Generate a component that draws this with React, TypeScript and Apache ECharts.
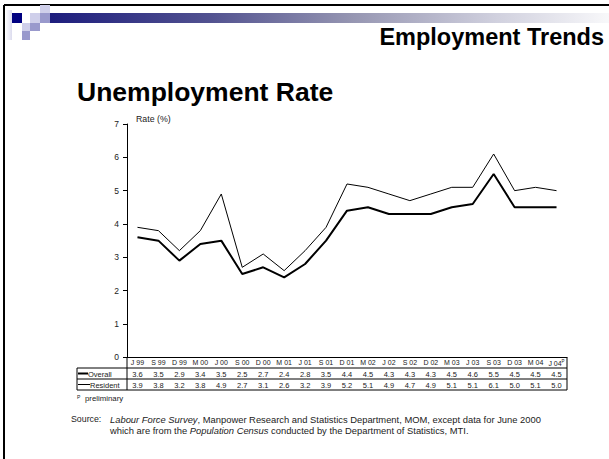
import React, { useEffect, useRef } from "react";
import * as echarts from "echarts";

const categories = ["J 99","S 99","D 99","M 00","J 00","S 00","D 00","M 01","J 01","S 01","D 01","M 02","J 02","S 02","D 02","M 03","J 03","S 03","D 03","M 04","J 04"];
const overall = [3.6,3.5,2.9,3.4,3.5,2.5,2.7,2.4,2.8,3.5,4.4,4.5,4.3,4.3,4.3,4.5,4.6,5.5,4.5,4.5,4.5];
const resident = [3.9,3.8,3.2,3.8,4.9,2.7,3.1,2.6,3.2,3.9,5.2,5.1,4.9,4.7,4.9,5.1,5.1,6.1,5.0,5.1,5.0];
const yMin = 0;
const yMax = 7;
const yStep = 1;

const FONT = "Liberation Sans, Arial, sans-serif";

export default function App() {
  const ref = useRef<HTMLDivElement>(null);
  useEffect(() => {
    if (!ref.current) return;
    const chart = echarts.init(ref.current, undefined, { renderer: "svg" });
    const GL = 127, GT = 124, GW = 440, GH = 233.3;
    const axisY = GT + GH;
    const tableTop = 368, row2 = 379, tableBottom = 390, tableLeft = 77, tableRight = GL + GW;
    const line = (x1: number, y1: number, x2: number, y2: number, w = 1, c = "#000") => ({
      type: "line", shape: { x1, y1, x2, y2 }, style: { stroke: c, lineWidth: w }, silent: true,
    });
    const txt = (x: number, y: number, text: string, size: number, extra: any = {}) => ({
      type: "text", x, y, silent: true,
      style: { text, fontSize: size, fontFamily: FONT, fill: "#000", textVerticalAlign: "middle", ...extra },
    });
    const lastIdx = categories.length - 1;
    chart.setOption({
      animation: false,
      backgroundColor: "#fff",
      grid: { left: GL, top: GT, width: GW, height: GH, containLabel: false },
      xAxis: [
        {
          type: "category", data: categories, boundaryGap: true,
          axisLine: { show: true, lineStyle: { color: "#000", width: 1 } },
          axisTick: { show: false },
          axisLabel: {
            interval: 0, margin: 2, fontSize: 7, fontFamily: FONT, color: "#222",
            formatter: (v: string, i: number) => (i === lastIdx ? v + "{sup|P}" : v),
            rich: { sup: { fontSize: 4.5, verticalAlign: "top", padding: [0, 0, 4, 0], fontFamily: FONT, color: "#222" } },
          },
        },
        {
          type: "category", data: overall.map((v) => v.toFixed(1)), position: "bottom", offset: 11.5,
          axisLine: { show: false }, axisTick: { show: false },
          axisLabel: { interval: 0, margin: 2, fontSize: 7.5, fontFamily: FONT, color: "#222" },
        },
        {
          type: "category", data: resident.map((v) => v.toFixed(1)), position: "bottom", offset: 22.5,
          axisLine: { show: false }, axisTick: { show: false },
          axisLabel: { interval: 0, margin: 2, fontSize: 7.5, fontFamily: FONT, color: "#222" },
        },
      ],
      yAxis: {
        type: "value", min: yMin, max: yMax, interval: yStep,
        axisLine: { show: true, lineStyle: { color: "#000", width: 1 } },
        axisTick: { show: true, inside: false, length: 4, lineStyle: { color: "#000" } },
        splitLine: { show: false },
        axisLabel: { margin: 8, fontSize: 8.5, fontFamily: FONT, color: "#222" },
      },
      series: [
        {
          name: "Overall", type: "line", data: overall, xAxisIndex: 0, showSymbol: false, symbol: "none",
          lineStyle: { color: "#000", width: 2 },
        },
        {
          name: "Resident", type: "line", data: resident, xAxisIndex: 0, showSymbol: false, symbol: "none",
          lineStyle: { color: "#000", width: 1 },
        },
      ],
      graphic: [
        // frame
        line(4, 5, 609, 5, 2),
        line(4, 5, 4, 459, 2),
        // decorative header
        { type: "rect", silent: true, shape: { x: 5, y: 10, width: 7, height: 30 },
          style: { fill: new echarts.graphic.LinearGradient(0, 0, 1, 0, [{ offset: 0, color: "#ffffff" }, { offset: 1, color: "#dcdcee" }]) } },
        { type: "rect", silent: true, shape: { x: 40, y: 13, width: 569, height: 10 },
          style: { fill: new echarts.graphic.LinearGradient(0, 0, 1, 0, [
            { offset: 0, color: "#1a1a7c" }, { offset: 0.3, color: "#525290" }, { offset: 0.55, color: "#9696b2" },
            { offset: 0.8, color: "#d0d0de" }, { offset: 1, color: "#f8f8fa" }]) } },
        { type: "rect", silent: true, shape: { x: 12, y: 13, width: 10, height: 10 }, style: { fill: "#000080" } },
        { type: "rect", silent: true, shape: { x: 30, y: 13, width: 10, height: 10 }, style: { fill: "#cfcfea" } },
        { type: "rect", silent: true, shape: { x: 40, y: 5, width: 10, height: 8 }, style: { fill: "#cfcfea" } },
        { type: "rect", silent: true, shape: { x: 40, y: 13, width: 10, height: 10 }, style: { fill: "#9999cc" } },
        { type: "rect", silent: true, shape: { x: 22, y: 23, width: 8, height: 8 }, style: { fill: "#cfcfea" } },
        { type: "rect", silent: true, shape: { x: 30, y: 23, width: 10, height: 8 }, style: { fill: "#9999cc" } },
        { type: "rect", silent: true, shape: { x: 22, y: 31, width: 8, height: 9 }, style: { fill: "#9999cc" } },
        // titles
        txt(604, 37, "Employment Trends", 23.5, { fontWeight: "bold", textAlign: "right" }),
        txt(77, 92, "Unemployment Rate", 26.5, { fontWeight: "bold" }),
        txt(136, 119, "Rate (%)", 8.8, { fill: "#222" }),
        // table
        line(tableLeft, tableTop, tableRight, tableTop),
        line(tableLeft, row2, tableRight, row2),
        line(tableLeft, tableBottom, tableRight, tableBottom),
        line(tableLeft, tableTop, tableLeft, tableBottom),
        line(GL, axisY, GL, tableBottom),
        line(tableRight, axisY, tableRight, tableBottom),
        line(78, (tableTop + row2) / 2, 88, (tableTop + row2) / 2, 2),
        line(78, (row2 + tableBottom) / 2, 90, (row2 + tableBottom) / 2, 1),
        txt(88, (tableTop + row2) / 2 + 0.5, "Overall", 7.5, { fill: "#222" }),
        txt(90, (row2 + tableBottom) / 2 + 0.5, "Resident", 7.5, { fill: "#222" }),
        // footnotes
        txt(77, 397, "P", 5, { fill: "#222" }),
        txt(85, 398, "preliminary", 7.8, { fill: "#222" }),
        txt(71, 419, "Source:", 8.8, { fill: "#222" }),
        txt(110, 419, "{i|Labour Force Survey}, Manpower Research and Statistics Department, MOM, except data for June 2000", 9.4,
          { fill: "#222", rich: { i: { fontStyle: "italic", fontSize: 9.4, fontFamily: FONT, fill: "#222" } } }),
        txt(110, 430, "which are from the {i|Population Census} conducted by the Department of Statistics, MTI.", 9.4,
          { fill: "#222", rich: { i: { fontStyle: "italic", fontSize: 9.4, fontFamily: FONT, fill: "#222" } } }),
      ],
    } as any);
    return () => chart.dispose();
  }, []);
  return <div ref={ref} style={{ position: "fixed", left: 0, top: 0, width: 609, height: 459 }} />;
}
